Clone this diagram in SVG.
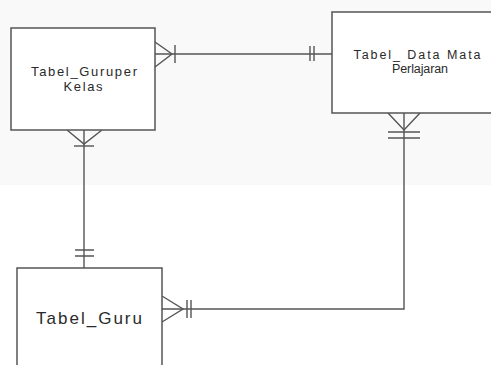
<svg xmlns="http://www.w3.org/2000/svg" width="491" height="365" viewBox="0 0 491 365">
<style>
.box{fill:#fff;stroke:#555;stroke-width:1.5}
.ln{fill:none;stroke:#555;stroke-width:1.4}
.t{font-family:"Liberation Sans",Arial,sans-serif;fill:#2a2a2a;text-anchor:middle}
</style>
<rect x="0" y="0" width="491" height="185" fill="#f9f9f9"/>
<rect x="0" y="185" width="491" height="180" fill="#ffffff"/>
<g id="connectors">
<path class="ln" d="M155 54 H332"/>
<path class="ln" d="M155 42 L172 54 L155 67"/>
<path class="ln" d="M175 45 V63"/>
<path class="ln" d="M310 46 V61 M314 46 V61"/>
<path class="ln" d="M84 130 V268"/>
<path class="ln" d="M67 130 L84 144 L102 130"/>
<path class="ln" d="M74 146 H94"/>
<path class="ln" d="M75 250 H94 M75 256 H94"/>
<path class="ln" d="M404 113 V309 H162"/>
<path class="ln" d="M388 113 L404 130 L420 113"/>
<path class="ln" d="M388 132 H420 M388 138 H420"/>
<path class="ln" d="M162 296 L183 309 L162 322"/>
<path class="ln" d="M187 300 V318 M191 300 V318"/>
</g>
<g id="node-guruper-kelas">
<rect class="box" x="11" y="28" width="144" height="102"/>
<text class="t" x="84" y="76" font-size="13" textLength="106" lengthAdjust="spacing">Tabel_Guruper</text>
<text class="t" x="83" y="91" font-size="13" textLength="39" lengthAdjust="spacing">Kelas</text>
</g>
<g id="node-data-mata-pelajaran">
<rect class="box" x="332" y="12" width="170" height="101"/>
<text class="t" x="417" y="59" font-size="12.5" textLength="127" lengthAdjust="spacing">Tabel_ Data Mata</text>
<text class="t" x="420" y="73" font-size="12.5" textLength="56" lengthAdjust="spacing">Perlajaran</text>
</g>
<g id="node-guru">
<rect class="box" x="17" y="268" width="145" height="110"/>
<text class="t" x="89" y="324" font-size="17" textLength="106" lengthAdjust="spacing">Tabel_Guru</text>
</g>
</svg>
